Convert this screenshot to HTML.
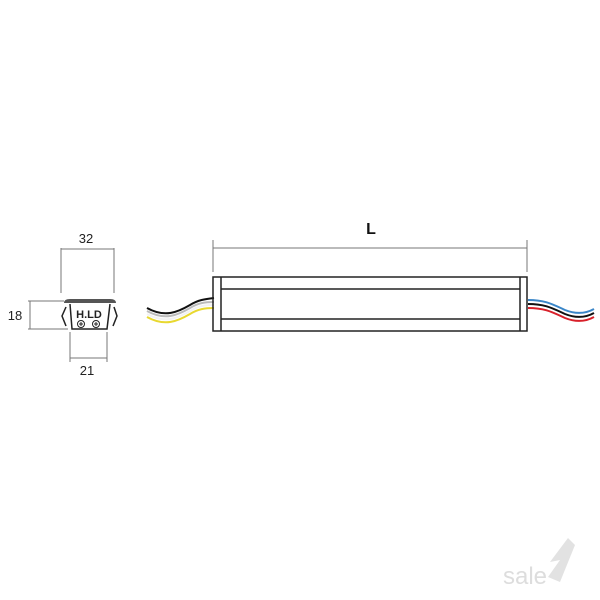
<!DOCTYPE html>
<html><head><style>body{margin:0;background:#fff}svg{display:block}</style></head><body>
<svg width="600" height="600" viewBox="0 0 600 600" xmlns="http://www.w3.org/2000/svg" font-family="Liberation Sans, sans-serif">
<rect width="600" height="600" fill="#fff"/>
<!-- dimensions left -->
<g stroke="#777" stroke-width="1" fill="none">
<path d="M61 248V293M114 248V293M61 249H114"/>
<path d="M28 301H64M28 329H68M30 301V329"/>
<path d="M70 332V362M107 332V362M70 358H107"/>
<path d="M213 240V272M527 240V272M213 248H527"/>
</g>
<text x="86" y="243" font-size="13" text-anchor="middle" fill="#222">32</text>
<text x="15" y="320" font-size="13" text-anchor="middle" fill="#222">18</text>
<text x="87" y="375" font-size="13" text-anchor="middle" fill="#222">21</text>
<text x="371" y="234" font-size="16" font-weight="bold" text-anchor="middle" fill="#111">L</text>
<!-- cross section -->
<path d="M64 303 Q64 299 70 299 H110 Q116 299 116 303 Z" fill="#555"/>
<path d="M66 307 L62 316 L66 326 M114 307 L117 316 L113 326" stroke="#222" stroke-width="1.5" fill="none"/>
<path d="M70 304 L72 329 H107 L110 304" stroke="#222" stroke-width="1.5" fill="none"/>
<text x="89" y="318" font-size="11" font-weight="bold" text-anchor="middle" fill="#222">H.LD</text>
<circle cx="81" cy="324" r="3.5" fill="none" stroke="#222"/><circle cx="96" cy="324" r="3.5" fill="none" stroke="#222"/>
<path d="M79 324h4M81 322v4M94 324h4M96 322v4" stroke="#222"/>
<!-- left wires -->
<g fill="none" stroke-width="2">
<path d="M147 308 C165 318 178 312 190 305 C198 300 205 299 214 298" stroke="#111"/>
<path d="M147 311 C165 321 178 315 190 308 C198 303 205 302 214 302" stroke="#bbb"/>
<path d="M147 314 C165 324 178 318 190 311 C198 306 205 305 214 305" stroke="#f2f2f2"/>
<path d="M147 317 C165 327 178 321 190 314 C198 309 205 308 214 308" stroke="#e8d830"/>
</g>
<!-- body -->
<g stroke="#222" stroke-width="1.5" fill="none">
<rect x="213" y="277" width="314" height="54"/>
<path d="M221 277V331M520 277V331M221 289H520M221 319H520"/>
</g>
<!-- right wires -->
<g fill="none" stroke-width="2">
<path d="M528 300 C545 300 552 304 565 310 C575 314 585 314 594 309" stroke="#3a86c8"/>
<path d="M528 304 C545 304 552 308 565 314 C575 318 585 318 594 313" stroke="#111"/>
<path d="M528 308 C545 308 552 312 565 318 C575 322 585 322 594 317" stroke="#d8202a"/>
</g>
<!-- watermark -->
<text x="503" y="584" font-size="24" fill="#ddd">sale</text>
<path d="M550 562 L568 538 L575 545 L560 582 L548 577 L560 560 Z" fill="#e2e2e2"/>
</svg>
</body></html>
